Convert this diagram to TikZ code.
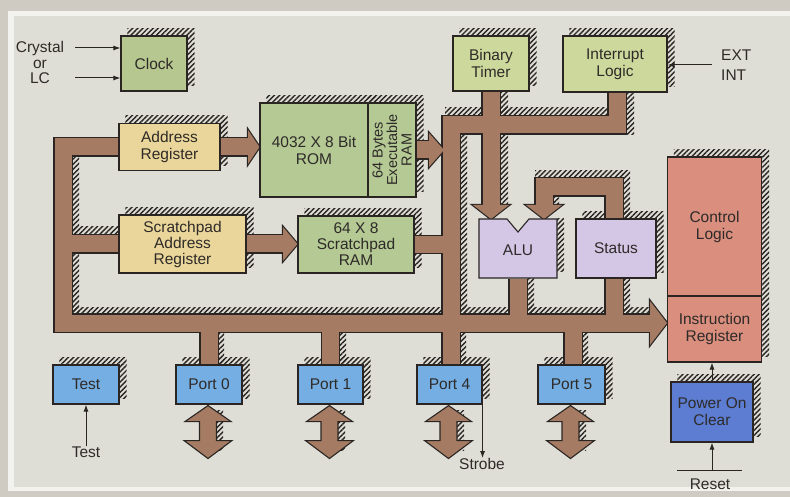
\documentclass[tikz,border=0pt]{standalone}
\usepackage{fontspec}
\setmainfont{Liberation Sans}
\usetikzlibrary{calc,arrows.meta,patterns.meta}
\definecolor{frame}{HTML}{CFCBC3}
\definecolor{rim}{HTML}{F2F2EE}
\definecolor{panel}{HTML}{DEDED7}
\definecolor{ink}{HTML}{2A2522}
\definecolor{txt}{HTML}{2E2A28}
\definecolor{bus}{HTML}{A57C63}
\definecolor{clockg}{HTML}{B6C78F}
\definecolor{timerg}{HTML}{CDD99C}
\definecolor{romg}{HTML}{B4C994}
\definecolor{regy}{HTML}{EAD69A}
\definecolor{alup}{HTML}{D4C7E6}
\definecolor{ctrlr}{HTML}{D98E7E}
\definecolor{portb}{HTML}{74AEE2}
\definecolor{pocb}{HTML}{5C7DD2}
\newcommand\lbl{\fontsize{15.5}{17}\selectfont}
\newcommand\lbltri{\fontsize{15.5}{16}\selectfont}
\newcommand\lblrot{\fontsize{14.5}{14.5}\selectfont}
\pgfdeclarelayer{hatchlayer}
\pgfdeclarelayer{busedgelayer}
\pgfdeclarelayer{busfilllayer}
\pgfsetlayers{hatchlayer,busedgelayer,busfilllayer,main}
\tikzset{
  box/.style={draw=ink, line width=1.1pt, inner sep=0pt, align=center, font=\lbl, text=txt},
  lbltext/.style={inner sep=0pt, align=center, font=\lbl, text=txt},
  hatch/.style={pattern={Lines[angle=45,distance=3.6pt,line width=1.4pt]}, pattern color=ink},
  busedge/.style={draw=ink, line width=19.4pt, line cap=butt, line join=miter},
  busfill/.style={draw=bus, line width=17pt, line cap=butt, line join=miter},
  thinarrow/.style={draw=ink, line width=1pt, -{Latex[length=7pt,width=5pt]}},
  thinline/.style={draw=ink, line width=1pt},
}
\newcommand\hatchbox[2]{%
  \fill[hatch] ($(#1.north west)+(7,-7)$) rectangle ($(#1.north east)+(7,0)$);
  \fill[hatch] ($(#1.north east)+(0,0)$) rectangle ($(#2.south east)+(7,-6)$);}
\newcommand\hrect[4]{\fill[hatch] (#1,#2) rectangle (#3,#4);}
\newcommand\dblarrow[1]{%
  \filldraw[fill=bus, draw=ink, line width=1.1pt, line join=miter]
   ($(#1.south)+(-1,1)$) -- ($(#1.south)+(22,17)$) -- ($(#1.south)+(7.5,17)$)
   -- ($(#1.south)+(7.5,36)$) -- ($(#1.south)+(23,36)$) -- ($(#1.south)+(-1,54)$)
   -- ($(#1.south)+(-25,36)$) -- ($(#1.south)+(-9.5,36)$) -- ($(#1.south)+(-9.5,17)$)
   -- ($(#1.south)+(-24,17)$) -- cycle;}
\begin{document}
\begin{tikzpicture}[x=1pt,y=-1pt]
\useasboundingbox (0,0) rectangle (790,497);
\begin{pgfonlayer}{hatchlayer}
\fill[frame] (0,0) rectangle (790,497);
\fill[rim] (8,11) rectangle (790,491);
\fill[panel] (14,16) rectangle (790,487);
\end{pgfonlayer}

% ---------- boxes ----------
\node[box, fill=clockg, minimum width=66pt, minimum height=55pt] (clock) at (154,63.5) {Clock};
\node[box, fill=timerg, minimum width=76pt, minimum height=55pt] (timer) at (491,63.5) {Binary\\Timer};
\node[box, fill=timerg, minimum width=104pt, minimum height=56pt] (intr) at (615,64) {Interrupt\\Logic};
\node[box, fill=regy, minimum width=101pt, minimum height=47pt] (addr) at (169.5,147) {Address\\Register};
\node[box, fill=romg, minimum width=108pt, minimum height=94pt] (rom) at (314,150) {4032 X 8 Bit\\ROM};
\node[box, fill=romg, minimum width=48pt, minimum height=94pt] (exram) at (392,150) {};
\node[rotate=90, inner sep=0pt, align=center, font=\lblrot, text=txt] (extxt) at (exram.center) {64 Bytes\\Executable\\RAM};
\node[box, fill=regy, minimum width=127pt, minimum height=58pt, font=\lbltri] (sar) at (182.5,244) {Scratchpad\\Address\\Register};
\node[box, fill=romg, minimum width=116pt, minimum height=57pt, font=\lbltri] (sram) at (356,244.5) {64 X 8\\Scratchpad\\RAM};
\filldraw[fill=alup, draw=ink, line width=1.1pt] (479,219) -- (507,219) -- (518,232) -- (529,219) -- (557,219) -- (557,278) -- (479,278) -- cycle;
\node[lbltext, minimum width=78pt, minimum height=59pt] (alu) at (518,250) {ALU};
\node[box, fill=alup, minimum width=80pt, minimum height=59pt] (status) at (616,248.5) {Status};
\node[box, fill=ctrlr, minimum width=94pt, minimum height=139pt] (ctrl) at (714.5,226.5) {Control\\Logic};
\node[box, fill=ctrlr, minimum width=94pt, minimum height=66pt] (ir) at (714.5,329) {Instruction\\Register};
\node[box, fill=pocb, minimum width=82pt, minimum height=60pt] (poc) at (712,412) {Power On\\Clear};
\node[box, fill=portb, minimum width=66pt, minimum height=39pt] (test) at (86,384.5) {Test};
\node[box, fill=portb, minimum width=66pt, minimum height=39pt] (p0) at (209,384.5) {Port 0};
\node[box, fill=portb, minimum width=65pt, minimum height=39pt] (p1) at (330.5,384.5) {Port 1};
\node[box, fill=portb, minimum width=65pt, minimum height=39pt] (p4) at (449.5,384.5) {Port 4};
\node[box, fill=portb, minimum width=67pt, minimum height=39pt] (p5) at (571.5,384.5) {Port 5};

% ---------- labels ----------
\node[lbltext, font=\fontsize{15.5}{15.5}\selectfont] (xtal) at (40,62.5) {Crystal\\or\\LC};
\node[lbltext, anchor=west, align=left, font=\fontsize{15.5}{20}\selectfont] (extint) at (721,65) {EXT\\INT};
\node[lbltext] (testlbl) at (86,452) {Test};
\node[lbltext] (strobe) at (482,464) {Strobe};
\node[lbltext] (reset) at (710,484) {Reset};

% ---------- bus coordinates ----------
\coordinate (lt) at (63,147);
\coordinate (ls) at (63,244);
\coordinate (lb) at (63,323);
\coordinate (mr) at (650,323);
\coordinate (mv) at (451,323);
\coordinate (mt) at (451,125);
\coordinate (it) at (617,125);
\coordinate (lp1) at (614,187);
\coordinate (lp2) at (544,187);

\newcommand\buspaths[1]{%
  \draw[#1] (addr.west) -- (lt) -- (lb) -- (mr);
  \draw[#1] (ls) -- (sar.west);
  \draw[#1] (addr.east) -- (248,147);
  \draw[#1] (sar.east) -- (283,244);
  \draw[#1] (exram.east) -- (429,150);
  \draw[#1] (sram.east) -- (sram.east -| mv);
  \draw[#1] (mv) -- (mt) -- (it) -- (it |- intr.south);
  \draw[#1] (timer.south) -- (491,205);
  \draw[#1] (lp1 |- status.north) -- (lp1) -- (lp2) -- (544,205);
  \draw[#1] (alu.south |- status.south) -- (alu.south |- mv);
  \draw[#1] (lp1 |- status.south) -- (lp1 |- mv);
  \draw[#1] (p0.north |- mv) -- (p0.north);
  \draw[#1] (p1.north |- mv) -- (p1.north);
  \draw[#1] (mv) -- (mv |- p4.north);
  \draw[#1] (573,323) -- (573,365);}
\newcommand\busheads[1]{%
  \path[#1] (248,130) -- (rom.west |- addr.east) -- (248,164) -- cycle;
  \path[#1] (283,227) -- (sram.west |- sar.east) -- (283,261) -- cycle;
  \path[#1] (429,133) -- (444,150) -- (429,167) -- cycle;
  \path[#1] (473,205) -- (491,219) -- (509,205) -- cycle;
  \path[#1] (526,205) -- (544,219) -- (562,205) -- cycle;
  \path[#1] (650,301) -- (ir.west |- mr) -- (650,345) -- cycle;}

\begin{pgfonlayer}{busedgelayer}
  \buspaths{busedge}
  \busheads{draw=ink, line width=2.4pt, line join=miter}
\end{pgfonlayer}
\begin{pgfonlayer}{busfilllayer}
  \buspaths{busfill}
  \busheads{fill=bus}
\end{pgfonlayer}

% ---------- hatching ----------
\begin{pgfonlayer}{hatchlayer}
  \hatchbox{clock}{clock}
  \hatchbox{timer}{timer}
  \hatchbox{intr}{intr}
  \hatchbox{addr}{addr}
  \hatchbox{rom}{rom}
  \fill[hatch] ($(exram.north west)+(0,-7)$) rectangle ($(exram.north east)+(7,0)$);
  \fill[hatch] (exram.north east) rectangle ($(exram.south east)+(7,-6)$);
  \hatchbox{sar}{sar}
  \hatchbox{sram}{sram}
  \fill[hatch] (557,219) rectangle (564,272);
  \hatchbox{status}{status}
  \hatchbox{ctrl}{ir}
  \hatchbox{poc}{poc}
  \hatchbox{test}{test}
  \hatchbox{p0}{p0}
  \hatchbox{p1}{p1}
  \hatchbox{p4}{p4}
  \hatchbox{p5}{p5}
  % bus shadows
  \hrect{72}{157}{79}{235}
  \hrect{72}{252}{79}{315}
  \hrect{72}{227}{119}{235}
  \hrect{72}{307}{443}{315}
  \hrect{460}{307}{509}{315}
  \hrect{526}{307}{606}{315}
  \hrect{623}{307}{650}{315}
  \hrect{460}{134}{467}{315}
  \hrect{445}{108}{483}{116}
  \hrect{500}{108}{609}{116}
  \hrect{626}{92}{634}{135}
  \hrect{500}{91}{508}{116}
  \hrect{500}{134}{508}{205}
  \hrect{535}{171}{623}{179}
  \hrect{622}{171}{630}{219}
  \hrect{552}{196}{559}{208}
  \hrect{526}{278}{534}{315}
  \hrect{622}{278}{630}{315}
  \hrect{217}{331}{224}{365}
  \hrect{339}{331}{346}{365}
  \hrect{459}{331}{466}{365}
  \hrect{581}{331}{588}{365}
  \hrect{216}{410}{223}{450}
  \hrect{338}{410}{345}{450}
  \hrect{457}{410}{464}{450}
  \hrect{579}{410}{586}{450}
\end{pgfonlayer}

% ---------- port double arrows ----------
\dblarrow{p0}
\dblarrow{p1}
\dblarrow{p4}
\dblarrow{p5}

% ---------- thin connectors ----------
\coordinate (xa) at (75,48);
\coordinate (xb) at (75,78);
\draw[thinarrow] (xa) -- (xa -| clock.west);
\draw[thinarrow] (xb) -- (xb -| clock.west);
\draw[thinarrow] ($(extint.west)+(-9,0)$) -- (intr.east |- extint.west);
\draw[thinarrow] (testlbl.north) -- (test.south);
\draw[thinarrow] (p4.south east) -- (p4.south east |- strobe.north);
\coordinate (rl) at (677,470);
\coordinate (rr) at (742,470);
\draw[thinline] (rl) -- (rr);
\draw[thinarrow] (poc.south |- rl) -- (poc.south);
\draw[thinarrow] (poc.north) -- (poc.north |- ir.south);
\end{tikzpicture}
\end{document}
